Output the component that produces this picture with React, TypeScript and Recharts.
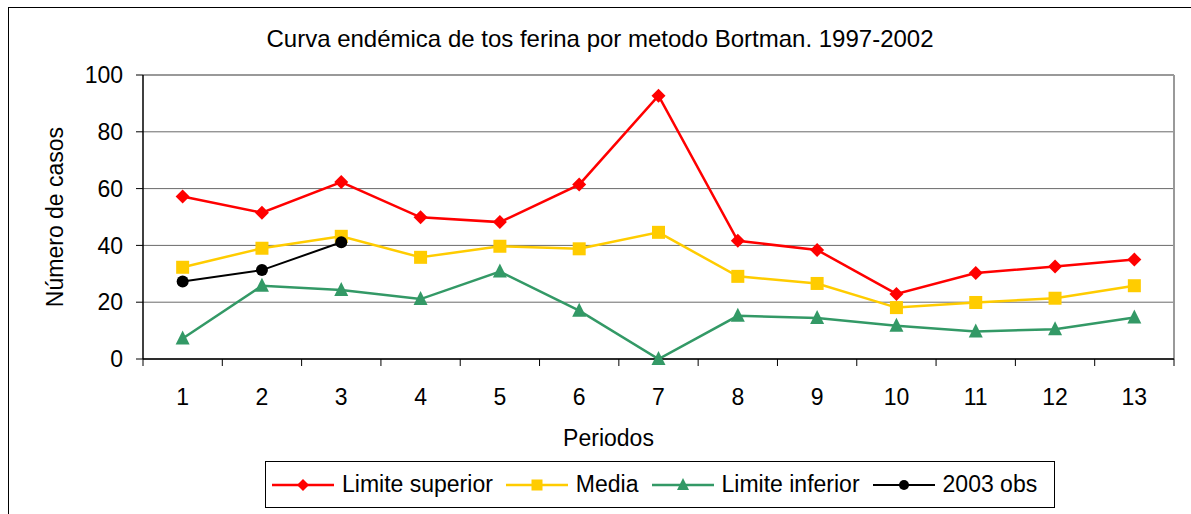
import React from "react";
import { LineChart, Line, XAxis, YAxis, CartesianGrid, Legend, ReferenceLine } from "recharts";

const periodos = [1, 2, 3, 4, 5, 6, 7, 8, 9, 10, 11, 12, 13];
const limiteSuperior = [57.2, 51.5, 62.3, 49.9, 48.2, 61.4, 92.7, 41.6, 38.4, 22.9, 30.3, 32.6, 35.0];
const media = [32.3, 39.0, 43.2, 35.8, 39.7, 38.8, 44.6, 29.1, 26.6, 18.1, 19.9, 21.4, 25.8];
const limiteInferior = [7.2, 25.8, 24.3, 21.1, 30.8, 17.0, 0, 15.2, 14.4, 11.7, 9.7, 10.5, 14.6];
const obs2003 = [27.3, 31.3, 41.1];

const yTicks = [0, 20, 40, 60, 80, 100];
// label ticks on whole periods, tick marks between them
const xTicks = [0.5, ...periodos.flatMap(p => [p, p + 0.5])];

const data = periodos.map((p, i) => ({
  periodo: p,
  superior: limiteSuperior[i],
  media: media[i],
  inferior: limiteInferior[i],
  obs: i < obs2003.length ? obs2003[i] : null,
}));

const FONT = "'Liberation Sans', Arial, sans-serif";
const RED = "#FF0000";
const YELLOW = "#FFCC00";
const GREEN = "#339966";

type Shape = "diamond" | "square" | "triangle" | "circle";

function marker(shape: Shape, cx: number, cy: number, color: string, r = 7) {
  if (shape === "diamond")
    return <polygon points={`${cx},${cy - r} ${cx + r},${cy} ${cx},${cy + r} ${cx - r},${cy}`} fill={color} />;
  if (shape === "square")
    return <rect x={cx - r + 0.5} y={cy - r + 0.5} width={2 * r - 1} height={2 * r - 1} fill={color} />;
  if (shape === "triangle")
    return <polygon points={`${cx},${cy - r - 1} ${cx + r},${cy + r - 1} ${cx - r},${cy + r - 1}`} fill={color} />;
  return <circle cx={cx} cy={cy} r={r - 1} fill={color} />;
}

const dotOf = (shape: Shape, color: string) => (props: any) => {
  const { cx, cy, index, value } = props;
  if (value == null || cx == null || cy == null) return <g key={index} />;
  return <g key={index}>{marker(shape, cx, cy, color)}</g>;
};

const series: { key: string; name: string; color: string; shape: Shape; width: number }[] = [
  { key: "superior", name: "Limite superior", color: RED, shape: "diamond", width: 2.5 },
  { key: "media", name: "Media", color: YELLOW, shape: "square", width: 2.5 },
  { key: "inferior", name: "Limite inferior", color: GREEN, shape: "triangle", width: 2.5 },
  { key: "obs", name: "2003 obs", color: "#000000", shape: "circle", width: 2 },
];

const XTick = (props: any) => {
  const { x, y, payload } = props;
  const v = payload.value;
  if (!Number.isInteger(v)) {
    return <line x1={x} x2={x} y1={y - 7} y2={y} stroke="#000" strokeWidth={1} />;
  }
  return (
    <text x={x} y={y + 39} textAnchor="middle" fontSize={23} fontFamily={FONT} fill="#000">
      {v}
    </text>
  );
};

const LegendBox = () => (
  <div
    style={{
      display: "flex",
      alignItems: "center",
      height: 47,
      boxSizing: "border-box",
      border: "1px solid #000",
      background: "#fff",
      fontFamily: FONT,
      fontSize: 23,
      color: "#000",
      paddingLeft: 6,
    }}
  >
    {series.map(s => (
      <div key={s.key} style={{ display: "flex", alignItems: "center", marginRight: 13 }}>
        <svg width={62} height={20} style={{ marginRight: 8 }}>
          <line x1={0} x2={62} y1={10} y2={10} stroke={s.color} strokeWidth={s.width} />
          {marker(s.shape, 31, 10, s.color, 6)}
        </svg>
        <span>{s.name}</span>
      </div>
    ))}
  </div>
);

export default function App() {
  return (
    <div style={{ position: "absolute", left: 0, top: 0, width: 1191, height: 514, background: "#fff", overflow: "hidden" }}>
      <div style={{ position: "absolute", left: 8, top: 7, width: 1300, height: 600, borderLeft: "1px solid #000", borderTop: "1px solid #000" }} />
      <div
        style={{
          position: "absolute",
          left: 0,
          width: 1200,
          top: 25,
          textAlign: "center",
          fontFamily: FONT,
          fontSize: 24,
          color: "#000",
          whiteSpace: "nowrap",
        }}
      >
        Curva endémica de tos ferina por metodo Bortman. 1997-2002
      </div>
      <div style={{ position: "absolute", left: 0, top: 0 }}>
        <LineChart width={1191} height={514} data={data} margin={{ top: 75, right: 17, left: 43, bottom: 18 }}>
          <CartesianGrid vertical={false} stroke="#6a6a6a" strokeWidth={1} />
          <XAxis
            dataKey="periodo"
            type="number"
            domain={[0.5, 13.5]}
            ticks={xTicks}
            interval={0}
            tickLine={false}
            tickSize={7}
            tickMargin={0}
            tick={<XTick />}
            axisLine={{ stroke: "#000", strokeWidth: 1.5 }}
            height={90}
            label={(p: any) => {
              const vb = p.viewBox;
              return (
                <text x={vb.x + vb.width / 2 - 50} y={vb.y + 87} textAnchor="middle" fontSize={23} fontFamily={FONT} fill="#000">
                  Periodos
                </text>
              );
            }}
          />
          <YAxis
            domain={[0, 100]}
            ticks={yTicks}
            interval={0}
            width={100}
            tickSize={7}
            tickMargin={13}
            tickLine={{ stroke: "#000" }}
            axisLine={{ stroke: "#000", strokeWidth: 1.5 }}
            tick={{ fontSize: 23, fontFamily: FONT, fill: "#000" }}
            label={(p: any) => {
              const vb = p.viewBox;
              const cx = vb.x + 12;
              const cy = vb.y + vb.height / 2;
              return (
                <text x={cx} y={cy} transform={`rotate(-90 ${cx} ${cy})`} textAnchor="middle" dominantBaseline="central" fontSize={23} fontFamily={FONT} fill="#000">
                  Número de casos
                </text>
              );
            }}
          />
          <ReferenceLine y={100} stroke="#999" strokeWidth={2} />
          <ReferenceLine x={13.5} stroke="#999" strokeWidth={2} />
          <Legend
            content={<LegendBox />}
            wrapperStyle={{ position: "absolute", left: 265, top: 461, width: 790, height: 47 }}
          />
          {series.map(s => (
            <Line
              key={s.key}
              dataKey={s.key}
              name={s.name}
              stroke={s.color}
              strokeWidth={s.width}
              dot={dotOf(s.shape, s.color)}
              activeDot={false}
              connectNulls={false}
              isAnimationActive={false}
            />
          ))}
        </LineChart>
      </div>
    </div>
  );
}
